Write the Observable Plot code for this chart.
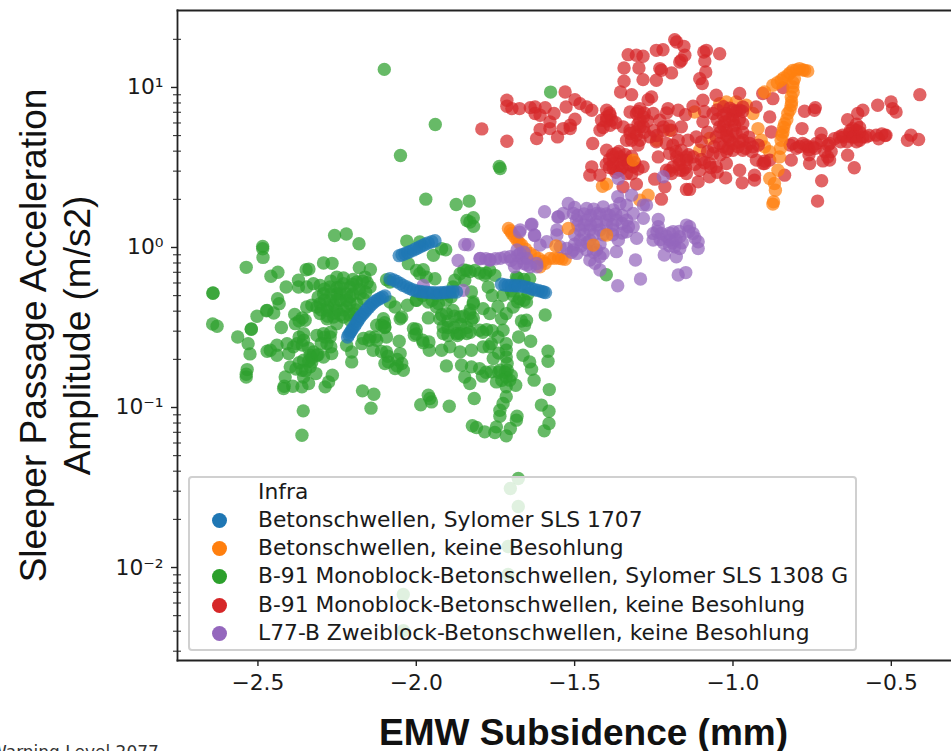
<!DOCTYPE html>
<html>
<head>
<meta charset="utf-8">
<script src="https://cdn.jsdelivr.net/npm/d3@7"></script>
<script src="https://cdn.jsdelivr.net/npm/@observablehq/plot@0.6"></script>
<style>
html,body{margin:0;padding:0;background:#fff;width:951px;height:751px;overflow:hidden}
#wrap{position:relative;width:951px;height:751px;overflow:hidden}
#legend{position:absolute;left:188px;top:476px;width:669px;height:175px;box-sizing:border-box;background:rgba(255,255,255,.8);border:2px solid #d0d0d0;border-radius:4px;font:21.8px "DejaVu Sans",sans-serif;color:#1a1a1a}
#legend .row{position:absolute;left:68px;white-space:nowrap;line-height:22px}
#legend .sw{position:absolute;left:-46px;top:4px;width:15px;height:15px;border-radius:50%}
#warn{position:absolute;left:-10px;top:742px;font:17px "DejaVu Sans",sans-serif;color:#333;white-space:nowrap}
</style>
</head>
<body>
<div id="wrap"></div>
<script>
// Each point: [EMW subsidence in mm, log10 of the acceleration amplitude in m/s2]
const seriesNames = ["Betonschwellen, Sylomer SLS 1707","Betonschwellen, keine Besohlung","B-91 Monoblock-Betonschwellen, Sylomer SLS 1308 G","B-91 Monoblock-Betonschwellen, keine Besohlung","L77-B Zweiblock-Betonschwellen, keine Besohlung"];
const seriesColors = ["#1f77b4","#ff7f0e","#2ca02c","#d62728","#9467bd"];

const blue = [[-2.217,-.559],[-2.209,-.532],[-2.201,-.507],[-2.19,-.476],[-2.18,-.445],[-2.169,-.418],[-2.157,-.389],[-2.144,-.361],[-2.13,-.336],[-2.114,-.318],[-2.099,-.303],
[-2.054,-.051],[-2.036,-.039],[-2.018,-.024],[-1.999,-.006],[-1.981,.011],[-1.962,.028],[-1.941,.042],
[-2.083,-.195],[-2.062,-.212],[-2.041,-.237],[-2.02,-.257],[-1.999,-.272],[-1.978,-.278],[-1.957,-.282],[-1.936,-.284],[-1.915,-.282],[-1.894,-.278],[-1.873,-.278],
[-1.731,-.23],[-1.71,-.237],[-1.689,-.239],[-1.668,-.241],[-1.647,-.251],[-1.626,-.264],[-1.605,-.274],[-1.592,-.282]];
const blueExtra = [[-2.213,-.545],[-2.205,-.52],[-2.195,-.49],[-2.185,-.46],[-2.175,-.43],[-2.163,-.403],[-2.15,-.375],[-2.137,-.348],[-2.122,-.327],[-2.107,-.31],
[-2.045,-.045],[-2.027,-.031],[-2.008,-.015],[-1.99,.003],[-1.972,.02],[-1.951,.036],
[-2.072,-.203],[-2.051,-.225],[-2.03,-.247],[-2.01,-.265],[-1.988,-.275],[-1.967,-.28],[-1.946,-.283],[-1.925,-.283],[-1.905,-.28],[-1.884,-.278],
[-1.72,-.234],[-1.7,-.238],[-1.678,-.24],[-1.658,-.246],[-1.636,-.258],[-1.615,-.269],[-1.598,-.278]];

const orangeUnder = [[-1.709,.119],[-1.698,.088],[-1.682,.046],[-1.667,.015],[-1.64,-.037],[-1.614,-.068],[-1.593,-.099],[-1.578,-.068],[-1.551,-.068],[-1.53,-.074],[-1.609,-.12],
[-1.703,.105],[-1.69,.068],[-1.675,.03],[-1.655,-.01],[-1.627,-.052],[-1.6,-.085],[-1.565,-.068],[-1.54,-.07],
[-1.399,.396],[-1.412,.383],[-1.268,.327],[-1.294,.296],[-1.121,.847],[-1.241,.67],[-1.2,.733],[-1.074,.681],[-1.105,.608],
[-1.021,.91],[-.99,.91],[-.958,.889],[-.937,.837],[-.921,.743],[-.911,.67],[-.9,.629],[-.884,.598],[-1.042,.899]];

const orangeOver = [[-1.52,.119],[-1.441,.015],[-1.399,.078],[-1.559,.009],[-1.315,.546],
[-.811,1.107],[-.79,1.118],[-.774,1.107],[-.764,1.103],[-.827,1.076],[-.848,1.045],[-.874,1.014],[-.9,.972],
[-.806,1.055],[-.811,1.003],[-.816,.941],[-.816,.889],[-.827,.837],[-.837,.774],[-.842,.722],[-.848,.67],[-.853,.566],[-.858,.483],[-.884,.431],[-.869,.4],[-.866,.358],[-.872,.286],[-.874,.271],
[-.8,1.11],[-.78,1.11],[-.82,1.09],[-.84,1.06],[-.86,1.03],[-.81,1.03],[-.81,.97],[-.815,.91],[-.82,.86],[-.83,.8],[-.84,.75],[-.845,.7],[-.85,.62]];

const green = [[-2.101,1.113],[-1.94,.769],[-2.05,.575],[-1.576,.971],[-1.738,.506],[-1.735,.494],[-1.97,.302],[-1.874,.269],[-1.833,.29],[-1.84,.169],[-1.82,.186],[-1.819,.132],[-1.831,.159],
[-2.258,.075],[-2.221,.084],[-2.181,.023],[-2.485,.007],[-2.485,-.008],[-2.484,-.062],[-2.537,-.124],[-2.459,-.18],[-2.437,-.155],[-2.411,-.247],[-2.293,-.097],[-2.266,-.099],[-2.348,-.139],[-2.339,-.135],[-2.18,-.126],[-2.145,-.137],[-2.642,-.284],[-2.642,-.286],[-2.643,-.478],[-2.629,-.492],[-2.521,-.509],[-2.521,-.511],[-2.564,-.559],[-2.531,-.601],[-2.525,-.665],[-2.503,-.43],[-2.471,-.393],[-2.473,-.395],[-2.45,-.409],[-2.438,-.32],[-2.433,-.351],[-2.426,-.5],[-2.534,-.763],[-2.537,-.809],[-2.537,-.792],
[-2.03,.04],[-1.989,.034],[-1.946,-.049],[-1.907,-.014],[-1.92,-.008],[-2.025,-.101],[-1.999,-.143],[-1.978,-.139],[-1.989,-.164],[-1.941,-.195],[-1.968,-.185],
[-2.372,-.205],[-2.372,-.247],[-2.346,-.247],[-2.325,-.226],[-2.304,-.237],[-2.251,-.185],[-2.23,-.226],[-2.272,-.247],[-2.293,-.289],[-2.251,-.289],[-2.209,-.247],[-2.188,-.216],[-2.162,-.185],[-2.146,-.247],[-2.177,-.289],[-2.209,-.309],[-2.24,-.33],[-2.272,-.33],[-2.304,-.351],[-2.314,-.372],[-2.282,-.393],[-2.251,-.393],[-2.22,-.372],[-2.188,-.351],[-2.167,-.32],[-2.346,-.372],[-2.261,-.434],[-2.23,-.434],[-2.198,-.413],[-2.282,-.445],[-2.251,-.476],[-2.304,-.413],[-2.209,-.455],
[-2.384,-.418],[-2.382,-.476],[-2.351,-.455],[-2.356,-.538],[-2.377,-.601],[-2.356,-.58],[-2.388,-.621],[-2.403,-.663],[-2.325,-.653],[-2.335,-.673],[-2.314,-.673],[-2.356,-.705],[-2.33,-.715],[-2.398,-.746],[-2.361,-.767],[-2.335,-.746],[-2.414,-.809],[-2.419,-.881],[-2.417,-.867],[-2.39,-.867],[-2.361,-.871],[-2.34,-.85],[-2.317,-.788],[-2.356,-.809],[-2.288,-.871],[-2.277,-.84],[-2.265,-.798],[-2.293,-.538],[-2.314,-.549],[-2.272,-.559],[-2.282,-.601],[-2.267,-.663],[-2.293,-.684],[-2.44,-.611],[-2.471,-.648],[-2.44,-.673],[-2.461,-.642],[-2.408,-.601],
[-2.22,-.611],[-2.204,-.653],[-2.204,-.715],[-2.167,-.569],[-2.146,-.559],[-2.172,-.601],[-2.136,-.642],[-2.125,-.58],[-2.104,-.445],[-2.099,-.497],[-2.109,-.486],[-2.094,-.559],[-2.125,-.486],[-2.094,-.653],[-2.088,-.715],[-2.099,-.725],[-2.051,-.663],[-2.046,-.725],[-2.041,-.767],[-2.067,-.757],[-2.054,-.586],[-2.051,-.445],[-2.067,-.372],[-2.083,-.341],[-2.094,-.201],[-2.083,-.216],[-2.046,-.434],[-2.028,-.361],[-2.009,-.507],[-2.006,-.549],[-1.978,-.596],[-1.959,-.642],[-1.92,-.642],[-1.962,-.44],[-1.999,-.33],[-1.962,-.341],[-1.936,-.372],
[-1.905,-.413],[-1.926,-.445],[-1.915,-.497],[-1.884,-.393],[-1.862,-.434],[-1.915,-.538],[-1.873,-.538],[-1.841,-.538],[-1.862,-.538],[-1.831,-.413],[-1.82,-.351],[-1.826,-.455],[-1.789,-.382],[-1.768,-.413],[-1.742,-.368],[-1.716,-.413],[-1.731,-.445],[-1.694,-.372],[-1.894,-.621],[-1.862,-.653],[-1.826,-.642],[-1.789,-.621],[-1.763,-.601],[-1.726,-.517],[-1.742,-.559],[-1.778,-.513],[-1.8,-.517],[-1.757,-.694],[-1.677,-.559],[-1.639,-.586],[-1.663,-.673],[-1.642,-.715],[-1.636,-.761],[-1.628,-.829],[-1.584,-.648],[-1.584,-.711],[-1.58,-.888],[-1.593,-.422],[-1.668,-.459],[-1.658,-.486],[-1.652,-.455],
[-1.905,-.74],[-1.857,-.736],[-1.826,-.746],[-1.8,-.757],[-1.847,-.809],[-1.831,-.85],[-1.791,-.804],[-1.763,-.777],[-1.747,-.84],[-1.736,-.767],[-1.716,-.601],[-1.716,-.642],[-1.716,-.684],[-1.713,-.725],[-1.713,-.767],[-1.716,-.809],[-1.705,-.829],[-1.716,-.871],[-1.686,-.861],[-1.716,-.933],[-1.726,-.975],[-1.736,-1.017],[-1.736,-1.054],[-1.747,-1.121],[-1.752,-1.156],[-1.716,-1.177],[-1.703,-1.131],[-1.684,-1.079],[-1.682,-1.054],[-1.784,-1.152],[-1.81,-1.125],[-1.823,-1.114],[-1.817,-.944],[-1.896,-.992],[-1.962,-.923],[-1.957,-.944],[-1.952,-.965],[-1.986,-.983],[-2.17,-.896],[-2.134,-.917],[-2.143,-1.004],[-2.357,-1.021],[-2.361,-1.173],[-1.605,-.985],[-1.581,-1.023],[-1.581,-1.1],[-1.596,-1.146],
[-1.841,-.143],[-1.815,-.143],[-1.862,-.164],[-1.878,-.205],[-1.847,-.205],[-1.884,-.247],[-1.768,-.143],[-1.784,-.174],[-1.752,-.174],[-1.773,-.247],[-1.684,-.185],[-1.642,-.195],[-1.689,-.237],[-1.726,-.299],[-1.694,-.299],[-1.674,-.32],[-1.652,-.341],[-1.647,-.289],[-1.826,-.278],[-1.82,-.341],[-1.936,-.299],[-1.905,-.33],
[-1.678,-1.444],[-1.703,-1.506],[-1.678,-1.619],[-1.71,-1.869],[-1.71,-2.044],[-2.041,-2.169],[-2.041,-2.394],[-1.4,-.17]];
const greenCores = [[-2.29,-.33],[-2.27,-.29],[-2.26,-.36],[-2.25,-.25],[-2.24,-.29],[-2.23,-.39],[-2.22,-.29],[-2.21,-.35],[-2.2,-.29],[-2.2,-.23],[-2.19,-.39],[-2.18,-.26],[-2.28,-.37],[-2.3,-.39],[-2.26,-.41],[-2.24,-.42],[-2.27,-.21],[-2.23,-.19],[-2.2,-.2],[-2.17,-.21],[-2.155,-.22],[-2.16,-.28],[-2.31,-.31],[-2.33,-.36],[-2.29,-.26],[-2.25,-.33],[-2.22,-.33],[-2.24,-.25],[-2.28,-.43],[-2.21,-.42],
[-2.37,-.56],[-2.36,-.61],[-2.34,-.63],[-2.33,-.69],[-2.37,-.72],[-2.34,-.71],[-2.35,-.77],[-2.38,-.76],[-2.31,-.67],[-2.37,-.46],[-2.36,-.44],[-2.29,-.56],[-2.3,-.6],[-2.27,-.53],[-2.27,-.62],
[-1.92,-.42],[-1.9,-.46],[-1.88,-.43],[-1.9,-.5],[-1.88,-.5],[-1.86,-.48],[-1.84,-.5],[-1.83,-.53],[-1.85,-.43],[-1.83,-.39],[-1.82,-.44],[-1.87,-.55],[-1.9,-.55],[-1.79,-.53],[-1.77,-.62],[-1.76,-.52],[-1.78,-.78],[-1.74,-.78],[-1.72,-.78],[-1.7,-.8],[-1.73,-.83],[-1.74,-.66],[-1.68,-.34],[-1.66,-.33],[-1.7,-.27],[-1.68,-.19],[-1.66,-.2],[-1.8,-.16],[-1.78,-.16],[-1.83,-.15],[-1.85,-.14],[-1.76,-.3],[-2.0,-.33],[-1.98,-.3],[-1.95,-.33],[-1.93,-.35],[-1.91,-.29],[-1.89,-.31],[-2.1,-.47],[-2.1,-.5],[-2.13,-.56],[-2.15,-.58],[-2.09,-.68],[-2.11,-.65],[-2.06,-.7],[-2.06,-.74],[-2.0,-.51],[-2.0,-.54],[-1.98,-.58],[-1.96,-.59]];

const red = [[-1.714,.92],[-1.714,.883],[-1.698,.868],[-1.674,.868],[-1.64,.874],[-1.625,.878],[-1.593,.874],[-1.625,.837],[-1.609,.826],[-1.565,.837],[-1.578,.785],[-1.609,.737],[-1.578,.743],[-1.554,.691],[-1.62,.681],[-1.714,.664],[-1.793,.741],[-1.53,.972],[-1.527,.878],[-1.499,.924],[-1.483,.899],[-1.462,.878],[-1.446,.858],[-1.536,.743],[-1.514,.764],[-1.499,.801],[-1.514,.743],
[-1.331,1.205],[-1.305,1.201],[-1.284,1.195],[-1.242,1.232],[-1.221,1.236],[-1.184,1.299],[-1.178,1.284],[-1.155,1.257],[-1.152,1.201],[-1.168,1.159],[-1.163,1.17],[-1.084,1.232],[-1.092,1.222],[-1.042,1.211],[-1.089,1.165],[-1.344,1.122],[-1.297,1.122],[-1.231,1.118],[-1.226,1.107],[-1.194,1.091],[-1.242,1.045],[-1.284,1.049],[-1.344,1.039],[-1.086,1.097],[-1.105,1.055],[-1.097,1.024],[-1.355,.972],[-1.32,.955],[-1.257,.941],[-1.268,.924],
[-1.399,.858],[-1.388,.826],[-1.415,.795],[-1.388,.764],[-1.42,.733],[-1.325,.847],[-1.294,.868],[-1.283,.816],[-1.252,.837],[-1.231,.795],[-1.205,.868],[-1.173,.858],[-1.126,.883],[-1.095,.92],[-1.053,.951],[-.979,.962],[-.906,.962],[-.874,.93],[-.842,.999],[-.927,.878],[-.969,.878],[-1.0,.858],[-1.031,.826],[-1.063,.837],[-1.095,.785],[-1.163,.754],[-1.194,.733],[-1.22,.754],[-1.294,.754],[-1.325,.733],[-1.262,.691],[-1.242,.66],[-1.336,.67],[-1.294,.67],[-1.443,.65],[-1.399,.608],[-1.368,.587],[-1.347,.546],[-1.378,.525],[-1.315,.504],[-1.284,.504],[-1.357,.483],[-1.378,.494],[-1.336,.462],[-1.446,.504],[-1.452,.452],[-1.42,.452],[-1.347,.379],[-1.305,.396],[-1.247,.427],[-1.215,.379],[-1.147,.363],[-1.137,.363],[-1.11,.41],[-1.226,.302],[-1.173,.67],[-1.116,.691],[-1.142,.67],[-1.163,.608],[-1.2,.587],[-1.236,.566],[-1.168,.546],[-1.126,.566],[-1.147,.546],[-1.189,.504],[-1.158,.483],[-1.194,.462],[-1.147,.462],[-1.105,.483],[-1.074,.525],[-1.053,.504],[-1.021,.525],[-1.074,.442],[-1.023,.435],[-.971,.404],[-.932,.452],[-.932,.421],[-.979,.483],[-.937,.629],[-.969,.608],[-1.0,.608],[-1.031,.629],[-1.063,.587],[-.99,.712],[-1.021,.733],[-1.0,.795],[-.969,.774],[-1.042,.754],[-1.053,.691],[-.969,.67],[-1.01,.67],[-.926,.546],[-.905,.525],[-.884,.546],[-.879,.722],[-.884,.816],[-.774,.851],[-.743,.858],[-.74,.874],[-.782,.743],[-.816,.546],[-.758,.525],[-.716,.541],[-.695,.546],[-.638,.577],[-.617,.498],[-.72,.417],[-.733,.29],[-.811,.65],[-.78,.65],[-.748,.629],[-.722,.712],[-.695,.65],[-.664,.691],[-.632,.712],[-.611,.733],[-.6,.67],[-.58,.691],[-.548,.702],[-.517,.702],[-.543,.889],[-.501,.91],[-.496,.868],[-.485,.847],[-.41,.955],[-.438,.702],[-.414,.675],[-.449,.67],[-.606,.837],[-.59,.858],[-.638,.799],[-.701,.566],[-.837,.452],[-.9,.525],
[-1.378,.566],[-1.357,.566],[-1.336,.546],[-1.357,.525],[-1.021,.837],[-1.0,.826],[-.979,.858],[-1.026,.785],[-.995,.764],[-1.016,.691],[-1.042,.65],[-1.016,.618],[-.984,.629],[-.947,.65],[-.654,.702],[-.627,.691],[-.611,.691],[-.622,.743],[-.764,.629],[-.737,.65],[-1.305,.837],[-1.294,.795],[-1.283,.754],[-1.399,.816],[-1.383,.795],[-1.347,.754],[-1.325,.712],[-1.305,.702],[-1.147,.566],[-1.178,.566],[-1.168,.483],[-1.21,.483]];
const redCores = [[-1.39,.84],[-1.4,.79],[-1.37,.78],[-1.41,.75],[-1.3,.85],[-1.28,.84],[-1.27,.79],[-1.3,.77],[-1.31,.72],[-1.28,.72],[-1.25,.73],[-1.24,.7],[-1.22,.73],[-1.2,.76],[-1.32,.67],[-1.3,.64],
[-1.39,.55],[-1.38,.58],[-1.36,.6],[-1.34,.58],[-1.32,.57],[-1.31,.53],[-1.33,.52],[-1.35,.5],[-1.37,.47],[-1.39,.5],[-1.4,.52],[-1.3,.49],[-1.32,.46],
[-1.05,.86],[-1.03,.88],[-1.01,.87],[-.99,.85],[-.97,.85],[-1.05,.8],[-1.03,.76],[-1.01,.8],[-.98,.8],[-1.04,.72],[-1.02,.7],[-1.0,.73],[-.97,.72],[-.95,.69],[-1.0,.65],[-.98,.66],[-.96,.62],[-.94,.6],[-1.02,.6],[-1.04,.58],[-1.06,.63],[-1.08,.6],[-1.1,.55],[-.92,.64],[-.9,.54],
[-.82,.64],[-.8,.62],[-.79,.63],[-.77,.64],[-.76,.61],[-.74,.62],[-.72,.67],[-.7,.64],[-.68,.68],[-.66,.66],[-.65,.69],[-.64,.66],[-.63,.73],[-.62,.69],[-.6,.72],[-.61,.66],[-.59,.69],[-.57,.7],[-.54,.68],[-.52,.7],[-.53,.71],[-.6,.75],[-.61,.77],[-.76,.58],[-.71,.6],[-.69,.6],
[-1.2,.48],[-1.17,.52],[-1.15,.5],[-1.12,.52],[-1.14,.58],[-1.18,.6],[-1.21,.65],[-1.19,.64],[-1.1,.66],[-1.08,.72],[-1.09,.85],[-1.15,.83],[-1.21,.84],[-1.05,.47],[-1.07,.5],[-1.09,.53]];

const purple = [[-1.798,-.068],[-1.767,-.078],[-1.735,-.068],[-1.704,-.058],[-1.672,-.037],[-1.651,-.068],[-1.683,-.099],[-1.64,-.12],[-1.619,-.12],[-1.672,.109],[-1.635,.146],[-1.627,.078],[-1.588,.036],[-1.609,.015],[-1.551,.192],[-1.595,.223],[-1.556,.109],[-1.556,.078],[-1.52,.275],[-1.536,.213],[-1.504,.213],[-1.462,.244],[-1.431,.213],[-1.41,.254],[-1.378,.234],[-1.357,.275],[-1.364,.317],[-1.32,.327],[-1.336,.265],[-1.315,.213],[-1.283,.265],[-1.273,.265],[-1.283,.182],[-1.236,.175],[-1.236,.13],[-1.252,.088],[-1.252,.046],[-1.226,.088],[-1.2,.046],[-1.189,.098],[-1.168,.067],[-1.184,.005],[-1.168,-.006],[-1.137,.13],[-1.126,.088],[-1.11,-.006],[-1.11,.036],[-1.147,.14],[-1.217,-.047],[-1.179,-.058],[-1.308,-.078],[-1.364,-.239],[-1.292,-.197],[-1.173,-.172],[-1.149,-.157],
[-1.494,.171],[-1.462,.171],[-1.431,.161],[-1.399,.171],[-1.368,.171],[-1.336,.171],[-1.315,.13],[-1.336,.098],[-1.483,.109],[-1.452,.109],[-1.42,.109],[-1.483,.046],[-1.452,.046],[-1.504,-.016],[-1.525,-.006],[-1.493,-.037],[-1.462,-.016],[-1.431,-.016],[-1.41,-.037],[-1.368,-.026],[-1.362,.046],[-1.452,-.078],[-1.42,-.058],[-1.42,-.141],[-1.436,-.099],[-1.304,.057],[-1.378,.109],[-1.546,.005],[-1.682,-.016],[-1.667,-.068],
[-1.847,.019],[-1.868,-.081],[-1.836,.017],[-1.978,-.237],[-1.852,-.268],[-1.637,.142],[-1.626,.075],[-1.674,.096],[-1.799,-.07],[-1.768,-.076],[-1.553,.19],[-1.22,.442],[-1.362,.431]];
const purpleCores = [[-1.5,.25],[-1.49,.2],[-1.47,.21],[-1.45,.2],[-1.44,.24],[-1.42,.21],[-1.4,.21],[-1.39,.2],[-1.37,.21],[-1.35,.2],[-1.35,.15],[-1.33,.13],[-1.38,.14],[-1.4,.14],[-1.43,.14],[-1.45,.14],[-1.47,.14],[-1.49,.14],[-1.5,.08],[-1.47,.08],[-1.44,.08],[-1.41,.08],[-1.38,.08],[-1.46,.03],[-1.48,.01],[-1.5,.02],[-1.51,-.03],[-1.44,-.03],[-1.42,.02],[-1.35,.09],
[-1.24,.1],[-1.23,.05],[-1.22,.03],[-1.21,.07],[-1.2,.01],[-1.19,.03],[-1.18,.05],[-1.16,.03],[-1.2,.09],[-1.17,.1],[-1.14,.1],[-1.12,.06],
[-1.78,-.07],[-1.75,-.07],[-1.72,-.06],[-1.7,-.08],[-1.68,-.05],[-1.66,-.03],[-1.66,-.1],[-1.69,-.12],[-1.65,-.11],[-1.62,-.1]];

const xTicks = [-2.5,-2,-1.5,-1,-.5];
const yMajor = [10,1,.1,.01];
const yMinorFactors = [2,3,4,5,6,7,8,9];
const yMinor = [.001,.01,.1,1,10].flatMap(d => yMinorFactors.map(f => f*d)).filter(v => v > .0027 && v < 30);
const sup = {"-2":"⁻²","-1":"⁻¹","0":"⁰","1":"¹"};

const table = (pts, s) => pts.map(([mm, lg]) => ({mm, amp: 10 ** lg, s}));
const rows = [
  ...table(orangeUnder, seriesNames[1]),
  ...table(green, seriesNames[2]),
  ...table(greenCores, seriesNames[2]),
  ...table(red, seriesNames[3]),
  ...table(redCores, seriesNames[3]),
  ...table(purple, seriesNames[4]),
  ...table(purpleCores, seriesNames[4]),
  ...table(orangeOver, seriesNames[1]),
  ...table(blue, seriesNames[0]),
  ...table(blueExtra, seriesNames[0])
];

const ink = "#222";
const chart = Plot.plot({
  width: 951, height: 751,
  marginLeft: 177, marginRight: 0, marginTop: 10, marginBottom: 91,
  style: {background: "#fff", fontFamily: "'DejaVu Sans',sans-serif", overflow: "hidden"},
  x: {domain: [-2.754, -0.31], label: null},
  y: {type: "log", domain: [10 ** -2.581, 10 ** 1.481], label: null},
  color: {domain: seriesNames, range: seriesColors},
  marks: [
    Plot.dot(rows, {x: "mm", y: "amp", fill: "s", r: 6.7, fillOpacity: 0.72, stroke: "none", sort: null}),
    Plot.axisX({ticks: xTicks, tickFormat: d3.format(".1f"), tickSize: 6, tickPadding: 8, fontSize: 21.8, label: null, stroke: ink, strokeWidth: 1.4, color: "#1a1a1a"}),
    Plot.axisY({ticks: yMajor, tickFormat: v => "10" + sup[Math.round(Math.log10(v))], tickSize: 6, tickPadding: 8, fontSize: 21.8, label: null, stroke: ink, strokeWidth: 1.4, color: "#1a1a1a"}),
    Plot.tickY(yMinor, {y: d => d, stroke: ink, strokeWidth: 1, insetLeft: -4, insetRight: 770}),
    Plot.frame({anchor: "left", stroke: ink, strokeWidth: 1.8}),
    Plot.frame({anchor: "top", stroke: ink, strokeWidth: 1.8}),
    Plot.frame({anchor: "bottom", stroke: ink, strokeWidth: 1.8}),
    Plot.text(["Sleeper Passage Acceleration\nAmplitude (m/s2)"], {frameAnchor: "left", textAnchor: "middle", dx: -124, rotate: -90, fontSize: 37, fill: "#111", lineHeight: 1.19, className: "ttl"}),
    Plot.text(["EMW Subsidence (mm)"], {frameAnchor: "bottom", dx: 19, dy: 84, fontSize: 37, fontWeight: "bold", fill: "#111", className: "ttl"})
  ]
});
chart.querySelectorAll(".ttl, .ttl text").forEach(n => { n.style.fontFamily = "'Liberation Sans',Arial,sans-serif"; });
const wrap = document.getElementById("wrap");
wrap.appendChild(chart);

const legend = document.createElement("div");
legend.id = "legend";
const rowsY = [27, 55, 83, 112, 140];
const head = document.createElement("div");
head.className = "row"; head.style.top = "3px"; head.textContent = "Infra";
legend.appendChild(head);
seriesNames.forEach((n, i) => {
  const r = document.createElement("div");
  r.className = "row"; r.style.top = (rowsY[i] + 4) + "px"; r.textContent = n;
  const s = document.createElement("span");
  s.className = "sw"; s.style.background = seriesColors[i];
  r.appendChild(s);
  legend.appendChild(r);
});
wrap.appendChild(legend);

const warn = document.createElement("div");
warn.id = "warn"; warn.textContent = "Warning Level 2077";
wrap.appendChild(warn);
</script>
</body>
</html>
